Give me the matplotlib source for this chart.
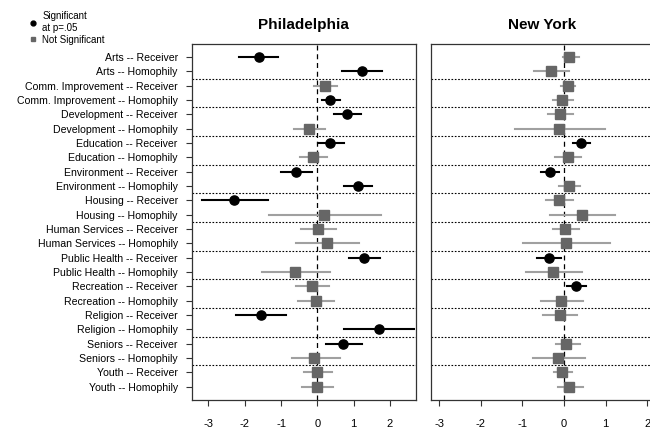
import numpy as np
import matplotlib
matplotlib.use('Agg')
import matplotlib.pyplot as plt
from matplotlib.lines import Line2D

plt.rcParams['font.family'] = ['Liberation Sans', 'DejaVu Sans']
plt.rcParams['axes.unicode_minus'] = False

# 行ラベル（上から順）
areas = ["Arts", "Comm. Improvement", "Development", "Education", "Environment",
         "Housing", "Human Services", "Public Health", "Recreation", "Religion",
         "Seniors", "Youth"]
row_labels = []
for a in areas:
    row_labels.append(a + " -- Receiver")
    row_labels.append(a + " -- Homophily")

# Philadelphia
phil_est = [-1.61, 1.22, 0.21, 0.36, 0.83, -0.23, 0.36, -0.12, -0.60, 1.11, -2.29, 0.19,
            0.01, 0.28, 1.29, -0.61, -0.14, -0.04, -1.55, 1.70, 0.72, -0.08, -0.01, -0.01]
phil_lo = [-2.15, 0.67, -0.08, 0.12, 0.46, -0.63, 0.01, -0.49, -1.00, 0.73, -3.17, -1.33,
           -0.45, -0.60, 0.86, -1.53, -0.58, -0.52, -2.25, 0.74, 0.25, -0.71, -0.37, -0.41]
phil_hi = [-1.09, 1.77, 0.55, 0.63, 1.20, 0.22, 0.74, 0.27, -0.15, 1.50, -1.35, 1.75,
           0.51, 1.16, 1.73, 0.36, 0.31, 0.47, -0.87, 2.67, 1.22, 0.62, 0.41, 0.44]
phil_sig = [1, 1, 0, 1, 1, 0, 1, 0, 1, 1, 1, 0,
            0, 0, 1, 0, 0, 0, 1, 1, 1, 0, 0, 0]

# New York (Religion -- Homophily は欠測)
ny_est = [0.13, -0.32, 0.09, -0.04, -0.10, -0.11, 0.42, 0.09, -0.34, 0.11, -0.11, 0.44,
          0.02, 0.05, -0.35, -0.26, 0.30, -0.07, -0.10, np.nan, 0.06, -0.15, -0.05, 0.13]
ny_lo = [-0.03, -0.72, -0.08, -0.27, -0.38, -1.17, 0.22, -0.21, -0.55, -0.13, -0.42, -0.34,
         -0.27, -0.99, -0.64, -0.91, 0.08, -0.55, -0.51, np.nan, -0.19, -0.75, -0.24, -0.14]
ny_hi = [0.35, 0.11, 0.27, 0.22, 0.22, 0.99, 0.63, 0.42, -0.13, 0.38, 0.22, 1.23,
         0.35, 1.10, -0.06, 0.43, 0.54, 0.46, 0.32, np.nan, 0.38, 0.51, 0.19, 0.46]
ny_sig = [0, 0, 0, 0, 0, 0, 1, 0, 1, 0, 0, 0,
          0, 0, 1, 0, 1, 0, 0, 0, 0, 0, 0, 0]

xticks = [-3, -2, -1, 0, 1, 2]

SQ_COL = "#666666"
LN_COL = "#a0a0a0"


def panel(ax, est, lo, hi, sig, title, xlim):
    y = np.arange(len(est))
    for i in range(len(est)):
        if np.isnan(est[i]):
            continue
        if sig[i]:
            ax.plot([lo[i], hi[i]], [y[i], y[i]], color="black", lw=1.5, zorder=2)
            ax.plot(est[i], y[i], "o", color="black", ms=6.6, zorder=3)
        else:
            ax.plot([lo[i], hi[i]], [y[i], y[i]], color=LN_COL, lw=1.5, zorder=2)
            ax.plot(est[i], y[i], "s", color=SQ_COL, ms=6.6, zorder=3)
    # 区切り線
    for k in range(1, len(est) // 2):
        ax.axhline(2 * k - 0.5, color="black", lw=0.8, ls=(0, (1.5, 1.5)), zorder=1)
    ax.axvline(0, color="black", lw=0.9, ls=(0, (4, 3)), zorder=1)
    ax.set_xlim(*xlim)
    ax.set_ylim(len(est) - 0.08, -0.92)
    ax.set_xticks(xticks)
    ax.tick_params(axis="x", length=4.5, width=0.8, labelsize=8, pad=9, color="#333333")
    ax.set_title(title, fontsize=11, fontweight="bold", pad=11)
    for s in ax.spines.values():
        s.set_linewidth(0.9)
        s.set_color("#333333")


fig = plt.figure(figsize=(6.5, 4.37), dpi=100)
ax1 = fig.add_axes([0.295, 0.0847, 0.345, 0.815])
ax2 = fig.add_axes([0.6626, 0.0847, 0.3424, 0.815])

panel(ax1, phil_est, phil_lo, phil_hi, phil_sig, "Philadelphia", (-3.46, 2.72))
panel(ax2, ny_est, ny_lo, ny_hi, ny_sig, "New York", (-3.2, 2.145))

ax1.set_yticks(np.arange(len(row_labels)))
ax1.set_yticklabels(row_labels, fontsize=7.6)
ax1.tick_params(axis="y", length=4, width=0.8, pad=6, color="#333333")
ax2.set_yticks([])

handles = [Line2D([], [], marker="o", color="black", ls="none", ms=3.5),
           Line2D([], [], marker="s", color=SQ_COL, ls="none", ms=3.5)]
fig.legend(handles, ["Significant\nat p=.05", "Not Significant"],
           loc="upper left", bbox_to_anchor=(0.035, 0.99), frameon=False,
           fontsize=7, handlelength=0.8, handletextpad=0.5, labelspacing=0.2,
           borderaxespad=0.3)

fig.savefig("out.png", dpi=100)
